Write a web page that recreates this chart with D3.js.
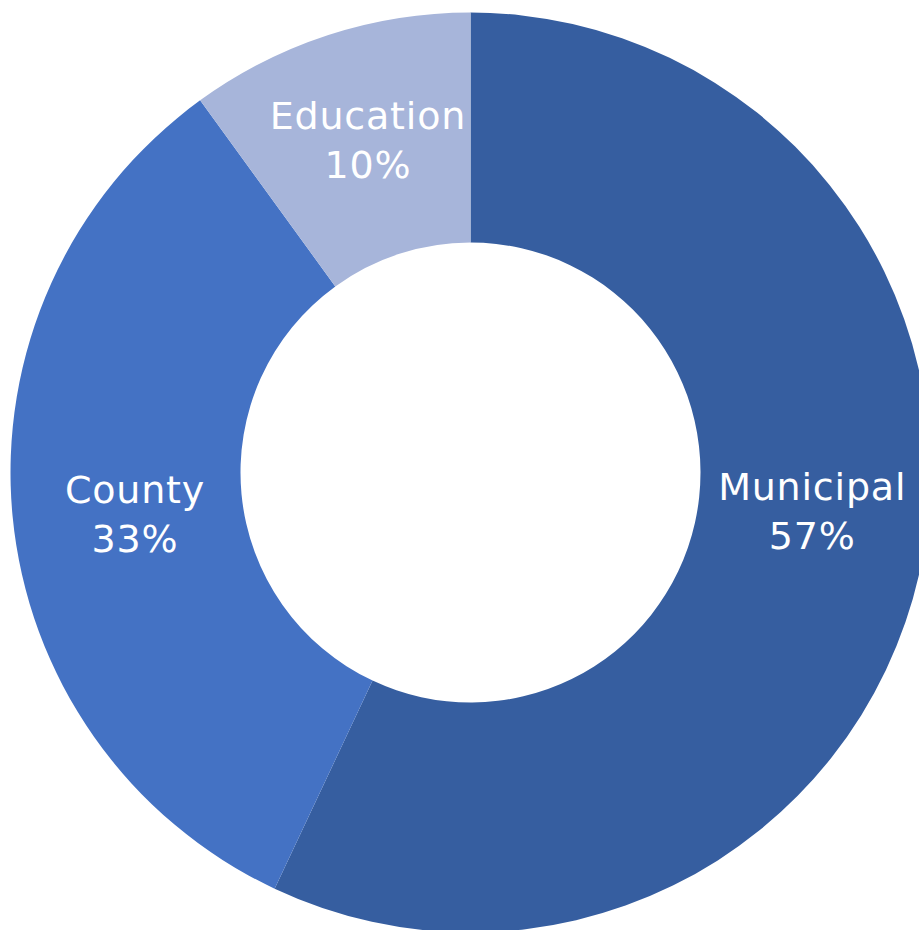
<!DOCTYPE html>
<html>
<head>
<meta charset="utf-8">
<script src="https://cdn.jsdelivr.net/npm/d3@7"></script>
<style>
body { margin: 0; background: #fff; }
svg { display: block; }
</style>
</head>
<body>
<div class="chart"></div>
<script>
// data
var categories = ["Municipal", "County", "Education"];
var shares = [57, 33, 10];
var colours = ["#365ea0", "#4472c4", "#a7b5da"];

var width = 919, height = 930;
var cx = 470.5, cy = 472.5;
var outerR = 460, innerR = 230;

// small nudges so labels sit where the original put them
var labelNudge = { "Municipal": [5, -36], "County": [8, 10], "Education": [4, -3] };

var svg = d3.select(".chart").append("svg")
	.attr("width", width)
	.attr("height", height);

var g = svg.append("g").attr("transform", "translate(" + cx + "," + cy + ")");

var pie = d3.pie().sort(null).value(function(d) { return d.v; });
var arc = d3.arc().innerRadius(innerR).outerRadius(outerR);
var labelArc = d3.arc().innerRadius(345).outerRadius(345);

var rows = categories.map(function(c, i) { return { c: c, v: shares[i], col: colours[i] }; });
var slices = pie(rows);

g.selectAll("path.slice")
	.data(slices)
	.enter()
	.append("path")
	.attr("class", "slice")
	.attr("d", arc)
	.attr("fill", function(d) { return d.data.col; });

var labels = g.selectAll("text.lbl")
	.data(slices)
	.enter()
	.append("text")
	.attr("class", "lbl")
	.attr("transform", function(d) {
		var p = labelArc.centroid(d);
		var n = labelNudge[d.data.c] || [0, 0];
		return "translate(" + (p[0] + n[0]) + "," + (p[1] + n[1]) + ")";
	})
	.attr("text-anchor", "middle")
	.attr("fill", "#ffffff")
	.style("font-family", "'DejaVu Sans', Verdana, sans-serif")
	.style("font-size", "38px")
	.style("letter-spacing", "0.8px");

labels.append("tspan")
	.attr("x", 0)
	.attr("y", -12)
	.text(function(d) { return d.data.c; });

labels.append("tspan")
	.attr("x", 0)
	.attr("y", 37)
	.text(function(d) { return d.data.v + "%"; });
</script>
</body>
</html>
